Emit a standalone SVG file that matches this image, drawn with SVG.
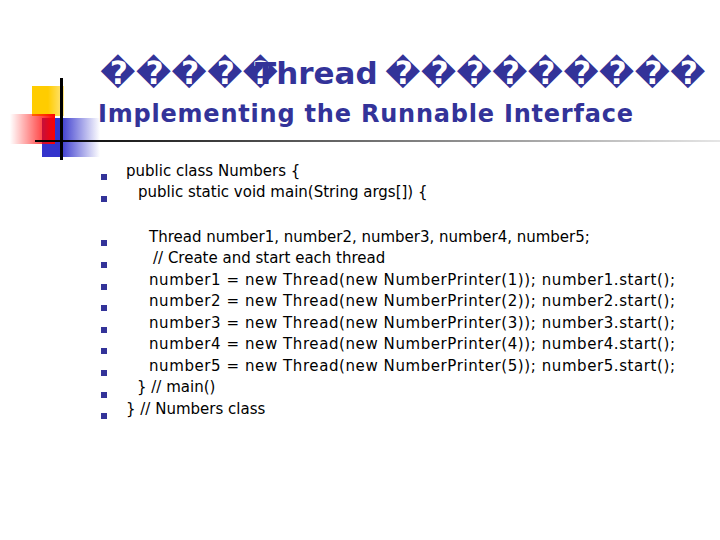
<svg xmlns="http://www.w3.org/2000/svg" width="720" height="540" viewBox="0 0 720 540">
<defs>
<linearGradient id="red" x1="1" y1="0" x2="0" y2="0"><stop offset="0" stop-color="#ff0000"/><stop offset="1" stop-color="#ff0000" stop-opacity="0"/></linearGradient>
<linearGradient id="blue" x1="0" y1="0" x2="1" y2="0"><stop offset="0.3" stop-color="#3333cc"/><stop offset="1" stop-color="#3333cc" stop-opacity="0"/></linearGradient>
<linearGradient id="line" x1="0" y1="0" x2="1" y2="0"><stop offset="0" stop-color="#000"/><stop offset="1" stop-color="#000" stop-opacity="0.1"/></linearGradient>
<linearGradient id="yel" x1="0" y1="0" x2="1" y2="0"><stop offset="0.5" stop-color="#ffcc00"/><stop offset="1" stop-color="#ffcc00" stop-opacity="0.5"/></linearGradient>
</defs>
<style>
.t{font-family:"DejaVu Sans",Verdana,sans-serif;font-weight:bold;fill:#333399}
.b{font-family:"DejaVu Sans",Verdana,sans-serif;font-size:15px;fill:#000}
.s{fill:#333399}
</style>
<rect width="720" height="540" fill="#fff"/>
<g id="decor">
<rect x="32" y="86" width="32" height="30" fill="url(#yel)"/>
<rect x="42" y="118" width="58" height="39" fill="url(#blue)"/>
<rect x="10" y="114" width="45" height="30" fill="url(#red)"/>
<rect x="60" y="78" width="3" height="82" fill="#000"/>
<rect x="35" y="140" width="685" height="2" fill="url(#line)"/>
</g>
<g id="title">
<text class="t" x="100" y="84" font-size="32">�����</text>
<text class="t" x="255" y="84" font-size="31">Thread</text>
<text class="t" x="385" y="84" font-size="32">���������</text>
<text class="t" x="98" y="122" font-size="24" textLength="535">Implementing the Runnable Interface</text>
</g>
<g id="bullets">
<rect class="s" x="101" y="174" width="6" height="6"/>
<rect class="s" x="101" y="196" width="6" height="6"/>
<rect class="s" x="101" y="240" width="6" height="6"/>
<rect class="s" x="101" y="262" width="6" height="6"/>
<rect class="s" x="101" y="284" width="6" height="6"/>
<rect class="s" x="101" y="305" width="6" height="6"/>
<rect class="s" x="101" y="327" width="6" height="6"/>
<rect class="s" x="101" y="348" width="6" height="6"/>
<rect class="s" x="101" y="370" width="6" height="6"/>
<rect class="s" x="101" y="392" width="6" height="6"/>
<rect class="s" x="101" y="413" width="6" height="6"/>
</g>
<g id="code">
<text class="b" x="126" y="176">public class Numbers {</text>
<text class="b" x="138" y="197">public static void main(String args[]) {</text>
<text class="b" x="149" y="242">Thread number1, number2, number3, number4, number5;</text>
<text class="b" x="153" y="263">// Create and start each thread</text>
<text class="b" x="149" y="285" textLength="526">number1 = new Thread(new NumberPrinter(1)); number1.start();</text>
<text class="b" x="149" y="306" textLength="526">number2 = new Thread(new NumberPrinter(2)); number2.start();</text>
<text class="b" x="149" y="328" textLength="526">number3 = new Thread(new NumberPrinter(3)); number3.start();</text>
<text class="b" x="149" y="349" textLength="526">number4 = new Thread(new NumberPrinter(4)); number4.start();</text>
<text class="b" x="149" y="371" textLength="526">number5 = new Thread(new NumberPrinter(5)); number5.start();</text>
<text class="b" x="137" y="392">} // main()</text>
<text class="b" x="126" y="414">} // Numbers class</text>
</g>
</svg>
